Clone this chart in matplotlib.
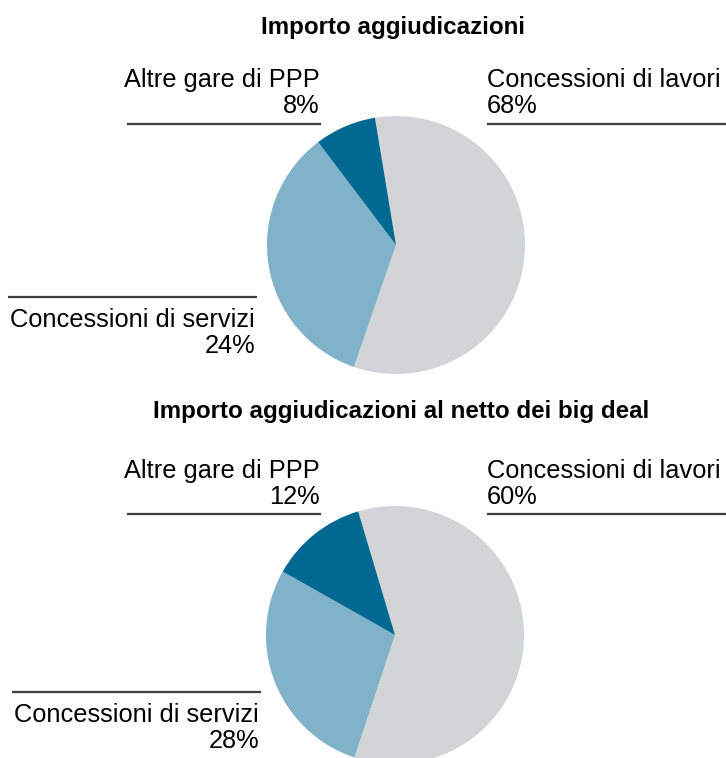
import matplotlib
matplotlib.use("Agg")
import matplotlib.pyplot as plt

W, H = 726, 758

plt.rcParams['font.family'] = ['Liberation Sans', 'DejaVu Sans']

categories = ["Concessioni di lavori", "Concessioni di servizi", "Altre gare di PPP"]
colors = ["#d3d4d6", "#80b2ca", "#006891"]

# slice sizes as they are drawn in the picture
top_shares = [57.9, 34.4, 7.7]
bottom_shares = [59.7, 28.1, 12.2]
# percentages printed next to the pies
top_pct = ["68%", "24%", "8%"]
bottom_pct = ["60%", "28%", "12%"]

titles = ["Importo aggiudicazioni", "Importo aggiudicazioni al netto dei big deal"]

LINE_COLOR = "#3f3f3f"
LABEL_SIZE = 18.3
TITLE_SIZE = 17.4


def y(py):
    # pixel row (from top) -> data y
    return H - py


def draw_panel(ax, shares, pct, title, lay):
    ax.pie(shares, colors=colors, startangle=lay["start"], counterclock=False,
           center=(lay["cx"], y(lay["cy"])), radius=129,
           wedgeprops=dict(linewidth=0))

    ax.text(lay["tx"], y(lay["ty"]), title, ha="center", va="baseline",
            fontsize=TITLE_SIZE, fontweight="bold")

    # right label: concessioni di lavori
    ax.text(487, y(lay["ly"]), categories[0], ha="left", va="baseline", fontsize=LABEL_SIZE)
    ax.text(487, y(lay["ly"] + 26), pct[0], ha="left", va="baseline", fontsize=LABEL_SIZE)
    ax.plot([487, W], [y(lay["ul"])] * 2, color=LINE_COLOR, lw=1.6, solid_capstyle="butt")

    # left label: altre gare
    ax.text(320, y(lay["ly"]), categories[2], ha="right", va="baseline", fontsize=LABEL_SIZE)
    ax.text(320, y(lay["ly"] + 26), pct[2], ha="right", va="baseline", fontsize=LABEL_SIZE)
    ax.plot([127, 321], [y(lay["ul"])] * 2, color=LINE_COLOR, lw=1.6, solid_capstyle="butt")

    # bottom-left label: concessioni di servizi
    ax.plot([lay["sx0"], lay["sx1"]], [y(lay["sl"])] * 2, color=LINE_COLOR, lw=1.6,
            solid_capstyle="butt")
    ax.text(lay["sx1"] - 2, y(lay["sl"] + 30), categories[1], ha="right", va="baseline",
            fontsize=LABEL_SIZE)
    ax.text(lay["sx1"] - 2, y(lay["sl"] + 56), pct[1], ha="right", va="baseline",
            fontsize=LABEL_SIZE)


fig = plt.figure(figsize=(W / 100, H / 100), dpi=100)
ax = fig.add_axes([0, 0, 1, 1])

top_layout = dict(start=99.4, cx=396, cy=245, tx=393, ty=34, ly=87, ul=124,
                  sx0=8, sx1=257, sl=297)
bottom_layout = dict(start=106.6, cx=395, cy=635, tx=401, ty=418, ly=478, ul=514,
                     sx0=12, sx1=261, sl=692)

draw_panel(ax, top_shares, top_pct, titles[0], top_layout)
draw_panel(ax, bottom_shares, bottom_pct, titles[1], bottom_layout)

ax.set_xlim(0, W)
ax.set_ylim(0, H)
ax.set_aspect("equal")
ax.axis("off")

fig.savefig("out.png", dpi=100, facecolor="white")
